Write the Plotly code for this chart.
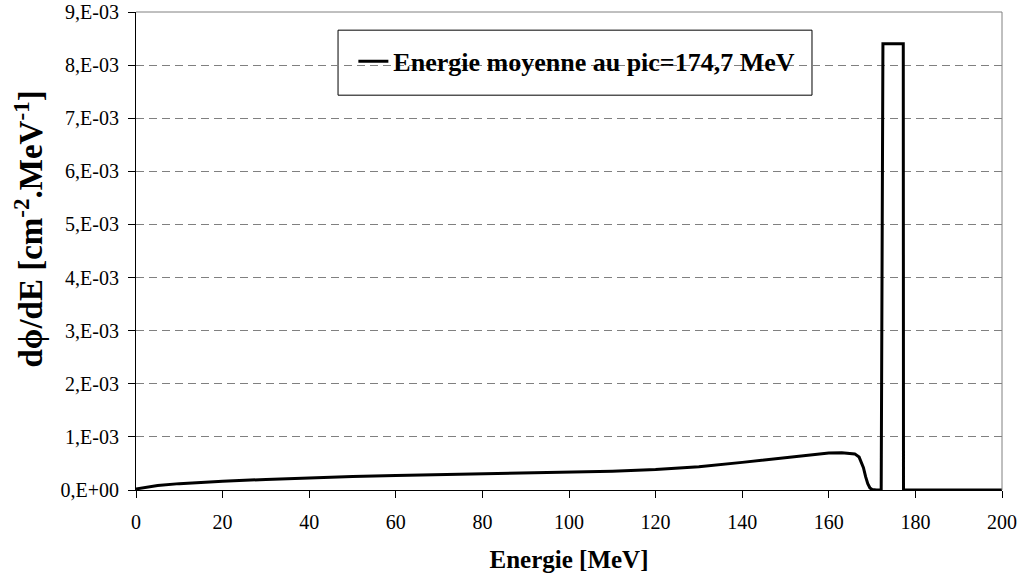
import plotly.graph_objects as go

# Energy (MeV) and fluence spectrum (in units of 1E-3 cm^-2.MeV^-1)
energie = [0, 2, 5, 10, 15, 20, 30, 40, 50, 60, 70, 80, 90, 100, 110, 120,
           130, 140, 150, 155, 160, 163, 165, 166, 167, 168, 168.5, 169,
           169.5, 170, 171, 172.1, 172.5, 177.2, 177.25, 200]
flux_e3 = [0.02, 0.05, 0.085, 0.12, 0.145, 0.165, 0.20, 0.23, 0.255, 0.275,
           0.29, 0.30, 0.315, 0.335, 0.355, 0.385, 0.44, 0.52, 0.61, 0.66,
           0.695, 0.70, 0.695, 0.68, 0.62, 0.42, 0.25, 0.12, 0.04, 0.01,
           0.0, 0.0, 8.4, 8.4, 0.0, 0.0]
flux = [v * 1e-3 for v in flux_e3]

serie_nom = "Energie moyenne au pic=174,7 MeV"
x_ticks = list(range(0, 201, 20))
y_tickvals = [i * 1e-3 for i in range(0, 10)]
y_ticktext = ["0,E+00"] + [f"{i},E-03" for i in range(1, 10)]

FONT = "Liberation Serif"

fig = go.Figure()
fig.add_trace(go.Scatter(
    x=energie, y=flux, mode="lines", name="<b>" + serie_nom + "</b>",
    line=dict(color="black", width=3), showlegend=True,
))

fig.update_layout(
    width=1022, height=577,
    margin=dict(l=136, r=20, t=12, b=87),
    paper_bgcolor="white", plot_bgcolor="white",
    font=dict(family=FONT, color="black", size=20),
    showlegend=True,
    legend=dict(
        x=0.251, y=0.897, xanchor="left", yanchor="middle",
        bgcolor="rgba(0,0,0,0)", borderwidth=0,
        font=dict(family=FONT, size=26, color="black"),
    ),
    xaxis=dict(
        range=[0, 200], tickvals=x_ticks, ticks="outside", ticklen=7,
        tickcolor="black", showline=True, linecolor="black", linewidth=1,
        showgrid=False, zeroline=False, automargin=False,
        ticklabelstandoff=7, ticklabeloverflow="allow",
        tickfont=dict(family=FONT, size=20, color="black"),
        title=dict(text="<b>Energie [MeV]</b>",
                   font=dict(family=FONT, size=25, color="black"), standoff=18),
    ),
    yaxis=dict(
        range=[0, 0.009], tickvals=y_tickvals, ticktext=y_ticktext,
        ticks="outside", ticklen=7, tickcolor="black",
        showline=True, linecolor="black", linewidth=1,
        showgrid=True, gridcolor="#808080", gridwidth=1, griddash="8px,5px",
        zeroline=False, automargin=False, ticklabelstandoff=5,
        ticklabeloverflow="allow",
        tickfont=dict(family=FONT, size=20, color="black"),
    ),
    annotations=[
        dict(text="<b>dϕ/dE [cm<sup>-2</sup>.MeV<sup>-1</sup>]</b>",
             xref="paper", yref="paper", x=-0.1235, y=0.545,
             xanchor="center", yanchor="middle", textangle=-90, showarrow=False,
             font=dict(family=FONT, size=33, color="black")),
    ],
    shapes=[
        dict(type="line", xref="paper", yref="paper", x0=0, x1=1, y0=1, y1=1,
             line=dict(color="#808080", width=1)),
        dict(type="line", xref="paper", yref="paper", x0=1, x1=1, y0=0, y1=1,
             line=dict(color="#808080", width=1)),
        dict(type="rect", xref="paper", yref="paper",
             x0=0.2333, x1=0.7806, y0=0.826, y1=0.962,
             line=dict(color="black", width=1), fillcolor="white", layer="between"),
    ],
)

fig.write_html("out.html",
               config={"displayModeBar": False},
               post_script="document.body.style.margin='0';")
